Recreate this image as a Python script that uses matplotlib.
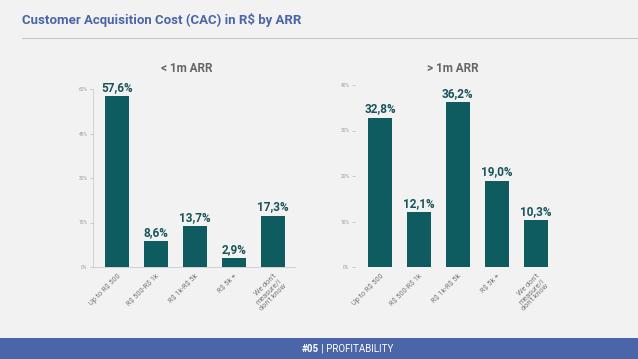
import matplotlib.pyplot as plt

plt.rcParams['font.family'] = ['Roboto', 'DejaVu Sans']

categories = ["Up to R\\$ 500", "R\\$ 500-R\\$ 1k", "R\\$ 1k-R\\$ 5k", "R\\$ 5k +",
              "We don't\nmeasure/I\ndon't know"]
small_arr = [57.6, 8.6, 13.7, 2.9, 17.3]
large_arr = [32.8, 12.1, 36.2, 19.0, 10.3]
small_ticks = [0, 15, 30, 45, 60]
large_ticks = [0, 10, 20, 30, 40]

BG = '#f2f2f2'
BAR = '#0f5c60'
TITLE_BLUE = '#4a66a8'

fig = plt.figure(figsize=(6.38, 3.59), dpi=100, facecolor=BG)

fig.text(22 / 638, 1 - 20 / 359, "Customer Acquisition Cost (CAC) in R\\$ by ARR",
         color=TITLE_BLUE, fontsize=9.5, fontweight='bold', va='center', ha='left')
fig.add_artist(plt.Line2D([22 / 638, 1], [1 - 38 / 359] * 2, color='#c8c8c8', lw=0.8))

# bottom banner
banner = fig.add_axes([0, 0, 1, 21 / 359])
banner.set_facecolor(TITLE_BLUE)
banner.set_xticks([]); banner.set_yticks([])
for s in banner.spines.values(): s.set_visible(False)
banner.text(0.5, 0.5, "#05", color='white', fontsize=7, fontweight='bold', ha='right', va='center',
            transform=banner.transAxes)
banner.text(0.5, 0.5, " | PROFITABILITY", color='white', fontsize=7, ha='left', va='center',
            transform=banner.transAxes)


def draw(ax, values, ticks, xlim):
    ax.set_facecolor(BG)
    x = range(len(values))
    ax.bar(x, values, width=0.62, color=BAR)
    for xi, v in zip(x, values):
        ax.text(xi, v + ticks[-1] * 0.012, f"{v:.1f}%".replace('.', ','), ha='center', va='bottom',
                color='#17545a', fontsize=8.5, fontweight='bold', clip_on=False)
    ax.set_ylim(0, ticks[-1])
    ax.set_xlim(*xlim)
    ax.set_yticks(ticks)
    ax.set_yticklabels([f"{t}%" for t in ticks], fontsize=3.5, color='#999999')
    ax.set_xticks(list(x))
    ax.set_xticklabels(categories, rotation=45, ha='right', rotation_mode='anchor',
                       fontsize=5.2, color='#777777', linespacing=1.0)
    ax.tick_params(axis='y', length=2, width=0.4, color='#aaaaaa', pad=2)
    ax.tick_params(axis='x', length=0, pad=4)
    for s in ['top', 'right']:
        ax.spines[s].set_visible(False)
    for s in ['left', 'bottom']:
        ax.spines[s].set_color('#cccccc')
        ax.spines[s].set_linewidth(0.6)


ax1 = fig.add_axes([93 / 638, 1 - 267 / 359, 202 / 638, 178 / 359])
draw(ax1, small_arr, small_ticks, (-0.615, 4.56))
fig.text(187 / 638, 1 - 69 / 359, "< 1m ARR", fontsize=8.5, fontweight='bold', color='#666666',
         ha='center', va='center')

ax2 = fig.add_axes([355 / 638, 1 - 267 / 359, 200 / 638, 182 / 359])
draw(ax2, large_arr, large_ticks, (-0.64, 4.49))
ax2.spines['left'].set_visible(False)
ax2.spines['bottom'].set_visible(False)
fig.text(453 / 638, 1 - 69 / 359, "> 1m ARR", fontsize=8.5, fontweight='bold', color='#666666',
         ha='center', va='center')

fig.savefig("out.png", dpi=100, facecolor=BG)
